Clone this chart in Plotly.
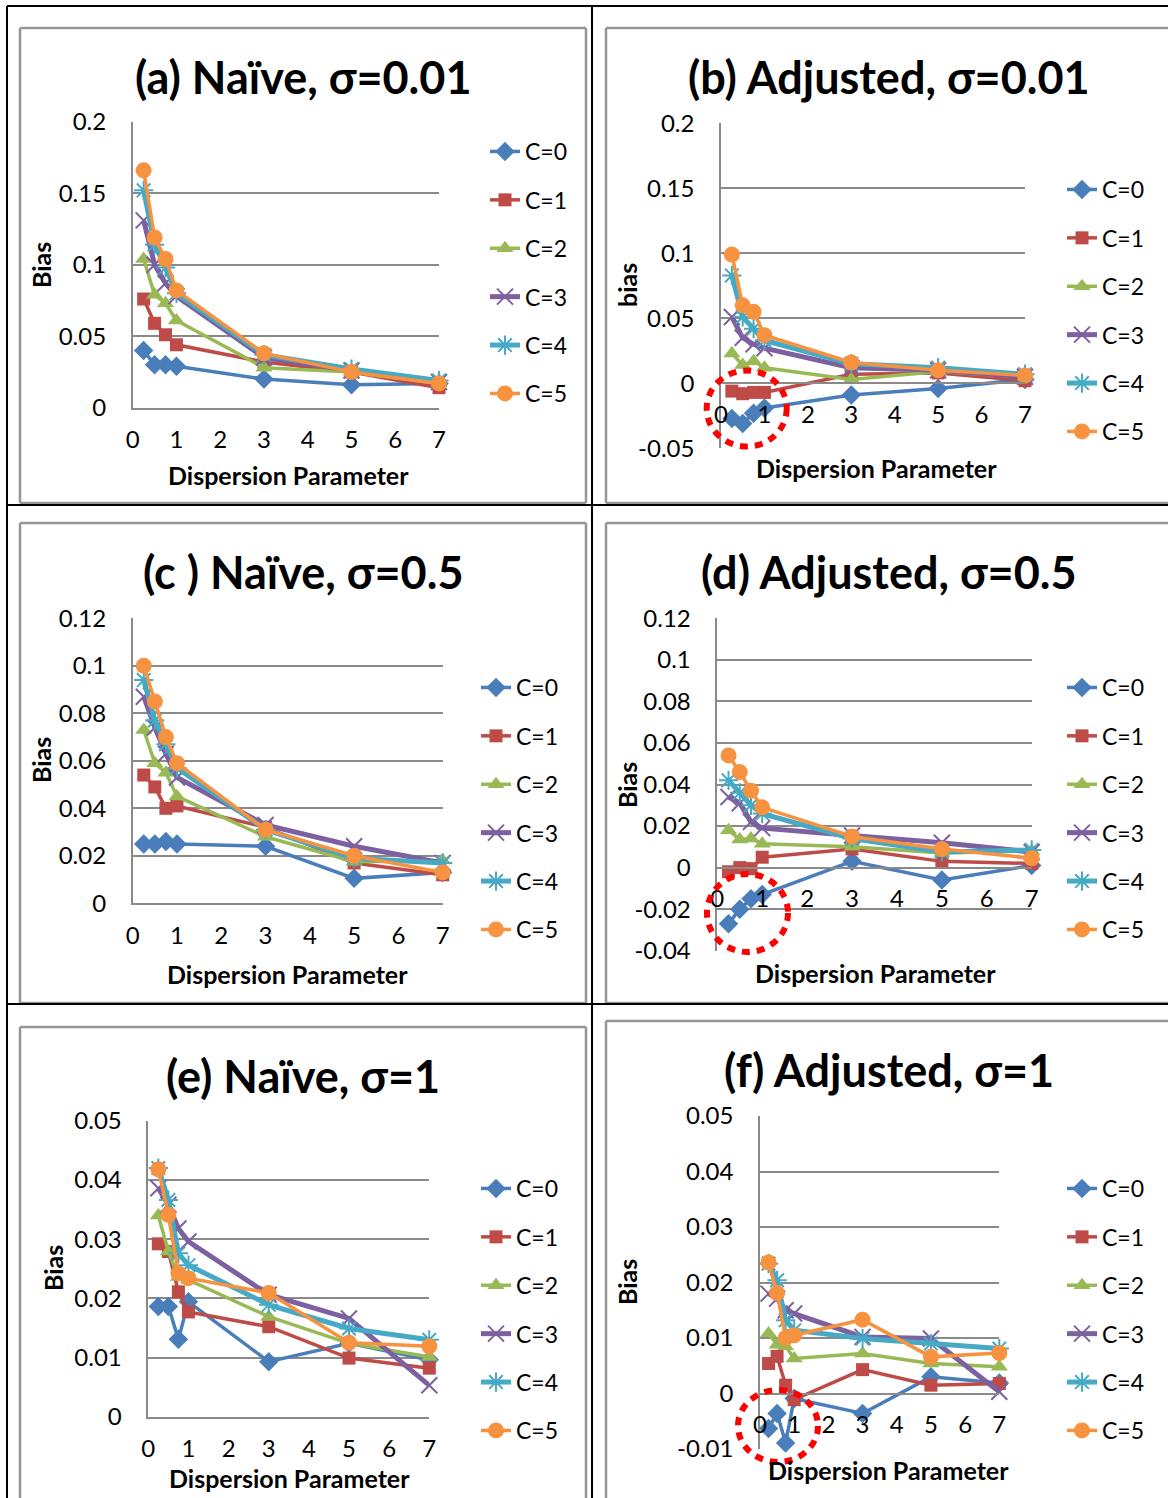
import plotly.graph_objects as go

# figure covers the whole 1168x1498 page (body margin removed by post_script)
W, H = 1168, 1498

x_vals = [0.25, 0.5, 0.75, 1, 3, 5, 7]
series_names = ["C=0", "C=1", "C=2", "C=3", "C=4", "C=5"]
x_ticks = [0, 1, 2, 3, 4, 5, 6, 7]
x_ticktext = ["0", "1", "2", "3", "4", "5", "6", "7"]

# (a) Naive, sigma=0.01
panel_a = [
    [0.040, 0.030, 0.030, 0.029, 0.020, 0.016, 0.017],
    [0.076, 0.059, 0.051, 0.044, 0.032, 0.025, 0.014],
    [0.104, 0.079, 0.073, 0.061, 0.028, 0.025, 0.017],
    [0.131, 0.100, 0.087, 0.078, 0.035, 0.026, 0.018],
    [0.152, 0.114, 0.098, 0.080, 0.037, 0.027, 0.019],
    [0.166, 0.119, 0.104, 0.082, 0.038, 0.025, 0.017],
]
# (b) Adjusted, sigma=0.01
panel_b = [
    [-0.027, -0.031, -0.023, -0.019, -0.009, -0.004, 0.003],
    [-0.006, -0.008, -0.007, -0.007, 0.007, 0.008, 0.002],
    [0.023, 0.014, 0.017, 0.012, 0.003, 0.009, 0.005],
    [0.051, 0.035, 0.030, 0.027, 0.012, 0.010, 0.005],
    [0.083, 0.051, 0.042, 0.033, 0.015, 0.012, 0.007],
    [0.099, 0.060, 0.055, 0.037, 0.016, 0.010, 0.006],
]
# (c) Naive, sigma=0.5
panel_c = [
    [0.025, 0.025, 0.026, 0.025, 0.024, 0.0105, 0.013],
    [0.054, 0.049, 0.040, 0.041, 0.032, 0.017, 0.012],
    [0.073, 0.059, 0.055, 0.045, 0.028, 0.0175, 0.018],
    [0.087, 0.074, 0.063, 0.053, 0.033, 0.024, 0.017],
    [0.094, 0.077, 0.067, 0.057, 0.031, 0.019, 0.017],
    [0.100, 0.085, 0.070, 0.059, 0.031, 0.020, 0.013],
]
# (d) Adjusted, sigma=0.5
panel_d = [
    [-0.027, -0.020, -0.015, -0.013, 0.003, -0.006, 0.001],
    [-0.002, 0.000, -0.0005, 0.005, 0.009, 0.003, 0.002],
    [0.018, 0.0135, 0.014, 0.0115, 0.010, 0.007, 0.008],
    [0.034, 0.031, 0.022, 0.019, 0.0155, 0.012, 0.0075],
    [0.042, 0.036, 0.030, 0.026, 0.014, 0.0075, 0.0085],
    [0.054, 0.046, 0.037, 0.029, 0.015, 0.009, 0.0045],
]
# (e) Naive, sigma=1
panel_e = [
    [0.0186, 0.0186, 0.0131, 0.0194, 0.0093, 0.0124, 0.0096],
    [0.0292, 0.0279, 0.0211, 0.0177, 0.0152, 0.0099, 0.0082],
    [0.0340, 0.0279, 0.0236, 0.0231, 0.0169, 0.0124, 0.0101],
    [0.0386, 0.0358, 0.0318, 0.0296, 0.0206, 0.0166, 0.0053],
    [0.0420, 0.0366, 0.0276, 0.0256, 0.0189, 0.0149, 0.0130],
    [0.0418, 0.0341, 0.0242, 0.0234, 0.0209, 0.0125, 0.0119],
]
# (f) Adjusted, sigma=1
panel_f = [
    [-0.0063, -0.0036, -0.0089, -0.0009, -0.0036, 0.0030, 0.0019],
    [0.0054, 0.0067, 0.0015, -0.0011, 0.0043, 0.0015, 0.0018],
    [0.0108, 0.0088, 0.0085, 0.0063, 0.0072, 0.0054, 0.0048],
    [0.0180, 0.0171, 0.0150, 0.0144, 0.0102, 0.0099, 0.0003],
    [0.0234, 0.0204, 0.0132, 0.0114, 0.0099, 0.0090, 0.0081],
    [0.0236, 0.0181, 0.0100, 0.0105, 0.0133, 0.0066, 0.0073],
]

titles = ["(a) Naïve, σ=0.01", "(b) Adjusted, σ=0.01", "(c ) Naïve, σ=0.5",
          "(d) Adjusted, σ=0.5", "(e) Naïve, σ=1", "(f) Adjusted, σ=1"]
y_titles = ["Bias", "bias", "Bias", "Bias", "Bias", "Bias"]
x_title = "Dispersion Parameter"

ticks_a = [0, 0.05, 0.1, 0.15, 0.2]
ticktext_a = ["0", "0.05", "0.1", "0.15", "0.2"]
ticks_b = [-0.05, 0, 0.05, 0.1, 0.15, 0.2]
ticktext_b = ["-0.05", "0", "0.05", "0.1", "0.15", "0.2"]
ticks_c = [0, 0.02, 0.04, 0.06, 0.08, 0.1, 0.12]
ticktext_c = ["0", "0.02", "0.04", "0.06", "0.08", "0.1", "0.12"]
ticks_d = [-0.04, -0.02, 0, 0.02, 0.04, 0.06, 0.08, 0.1, 0.12]
ticktext_d = ["-0.04", "-0.02", "0", "0.02", "0.04", "0.06", "0.08", "0.1", "0.12"]
ticks_e = [0, 0.01, 0.02, 0.03, 0.04, 0.05]
ticktext_e = ["0", "0.01", "0.02", "0.03", "0.04", "0.05"]
ticks_f = [-0.01, 0, 0.01, 0.02, 0.03, 0.04, 0.05]
ticktext_f = ["-0.01", "0", "0.01", "0.02", "0.03", "0.04", "0.05"]

# pixel layout (picture coordinates)
panels = [
    dict(data=panel_a, ticks=ticks_a, tt=ticktext_a, yr=[0, 0.2],
         px=(132.7, 439), py=(121.7, 407.7), title=(303, 77), xt=(288, 474.5),
         yt=(41, 265), leg=(485, 130)),
    dict(data=panel_b, ticks=ticks_b, tt=ticktext_b, yr=[-0.05, 0.2],
         px=(721, 1025), py=(123.3, 448.3), title=(889, 77), xt=(876, 467.5),
         yt=(627, 285), leg=(1062, 168)),
    dict(data=panel_c, ticks=ticks_c, tt=ticktext_c, yr=[0, 0.12],
         px=(132.7, 442.7), py=(618.3, 903.3), title=(303, 572), xt=(287, 974),
         yt=(41, 760), leg=(476, 666)),
    dict(data=panel_d, ticks=ticks_d, tt=ticktext_d, yr=[-0.04, 0.12],
         px=(717.3, 1031.7), py=(618.3, 950.7), title=(889, 572), xt=(875, 973),
         yt=(627, 785), leg=(1062, 666)),
    dict(data=panel_e, ticks=ticks_e, tt=ticktext_e, yr=[0, 0.05],
         px=(148.3, 429.3), py=(1120.7, 1416.7), title=(303, 1076), xt=(289, 1477.5),
         yt=(53, 1268), leg=(476, 1167)),
    dict(data=panel_f, ticks=ticks_f, tt=ticktext_f, yr=[-0.01, 0.05],
         px=(760, 999.3), py=(1116, 1449), title=(889, 1070), xt=(888, 1469.5),
         yt=(627, 1282), leg=(1062, 1167)),
]

colors = ["#4A7EBB", "#BE4B48", "#98B954", "#7D60A0", "#46AAC5", "#F69240"]
symbols = ["diamond", "square", "triangle-up", "x-thin-open", "asterisk-open", "circle"]
msizes = [15, 13, 15, 16, 16, 16]
lwidths = [3.5, 3.5, 3.5, 5, 5, 3.5]

FONT = "Lato, Carlito, Calibri, sans-serif"
GRID = "#8A8A8A"


def px2x(p):
    return min(max(p / W, 0.0), 1.0)


def px2y(p):
    return min(max(1 - p / H, 0.0), 1.0)


fig = go.Figure()
layout = dict(width=W, height=H,
              margin=dict(l=0, r=0, t=0, b=0, pad=0, autoexpand=False),
              autosize=False, paper_bgcolor="white", plot_bgcolor="white",
              font=dict(family=FONT, color="black", size=24),
              showlegend=True)
annotations = []
shapes = []

for i, p in enumerate(panels):
    k = "" if i == 0 else str(i + 1)
    xd = [px2x(p["px"][0]), px2x(p["px"][1])]
    yd = [px2y(p["py"][1]), px2y(p["py"][0])]
    y0, y1 = p["yr"]
    zero_pos = yd[0] + (0 - y0) / (y1 - y0) * (yd[1] - yd[0])
    xa = dict(domain=xd, range=[0, 7], tickvals=x_ticks, ticktext=x_ticktext,
              showgrid=False, zeroline=False, showline=True, linecolor=GRID,
              linewidth=1.5, ticks="", ticklabelstandoff=10, automargin=False,
              tickfont=dict(size=24, family=FONT, color="black"),
              fixedrange=True)
    if y0 < 0:
        xa.update(anchor="free", position=zero_pos)
    else:
        xa.update(anchor="y" + k)
    ya = dict(domain=yd, range=[y0, y1], tickvals=p["ticks"], ticktext=p["tt"],
              showgrid=True, gridcolor=GRID, gridwidth=1.5, zeroline=False,
              showline=True, linecolor=GRID, linewidth=1.5, ticks="",
              ticklabelstandoff=20, anchor="x" + k, automargin=False,
              tickfont=dict(size=24, family=FONT, color="black"), fixedrange=True)
    layout["xaxis" + k] = xa
    layout["yaxis" + k] = ya
    legname = "legend" + k
    layout[legname] = dict(x=px2x(p["leg"][0]), y=px2y(p["leg"][1]),
                           xanchor="left", yanchor="top", bgcolor="rgba(0,0,0,0)",
                           font=dict(size=23, family=FONT, color="black"),
                           tracegroupgap=15.5, itemsizing="trace", itemwidth=30)
    for c in range(6):
        fig.add_trace(go.Scatter(
            x=x_vals, y=p["data"][c], name=series_names[c], mode="lines+markers",
            xaxis="x" + k, yaxis="y" + k, legend=legname,
            legendgroup=f"g{i}_{c}",
            line=dict(color=colors[c], width=lwidths[c]),
            marker=dict(symbol=symbols[c], size=msizes[c], color=colors[c],
                        line=dict(color=colors[c], width=2 if c in (3, 4) else 0)),
            cliponaxis=False,
        ))
    annotations.append(dict(text="<b>" + titles[i] + "</b>", x=px2x(p["title"][0]),
                            y=px2y(p["title"][1]), xref="paper", yref="paper",
                            showarrow=False, xanchor="center", yanchor="middle",
                            font=dict(size=45, family=FONT, color="black")))
    annotations.append(dict(text="<b>" + x_title + "</b>", x=px2x(p["xt"][0]),
                            y=px2y(p["xt"][1]), xref="paper", yref="paper",
                            showarrow=False, xanchor="center", yanchor="middle",
                            font=dict(size=25, family=FONT, color="black")))
    annotations.append(dict(text="<b>" + y_titles[i] + "</b>", x=px2x(p["yt"][0]),
                            y=px2y(p["yt"][1]), xref="paper", yref="paper",
                            showarrow=False, xanchor="center", yanchor="middle",
                            textangle=-90,
                            font=dict(size=25, family=FONT, color="black")))


def seg(x0, y0, x1, y1, color, width):
    shapes.append(dict(type="line", xref="paper", yref="paper",
                       x0=px2x(x0), x1=px2x(x1), y0=px2y(y0), y1=px2y(y1),
                       line=dict(color=color, width=width), layer="below"))


# chart-area frames (grey); sides outside the picture are not drawn
FR = "#969696"
for (x0, y0, x1, y1, bottom) in [(20, 28, 586, 503, True), (20, 523, 586, 1003, True),
                                 (20, 1027, 586, 1498, False)]:
    seg(x0, y0, x1, y0, FR, 2.5)
    seg(x0, y0, x0, y1, FR, 2.5)
    seg(x1, y0, x1, y1, FR, 2.5)
    if bottom:
        seg(x0, y1, x1, y1, FR, 2.5)
for (x0, y0, y1, bottom) in [(606, 28, 503, True), (606, 523, 1003, True),
                             (606, 1021, 1498, False)]:
    seg(x0, y0, W, y0, FR, 2.5)
    seg(x0, y0, x0, y1, FR, 2.5)
    if bottom:
        seg(x0, y1, W, y1, FR, 2.5)
# table grid (black)
for (x0, y0, x1, y1) in [(7, 6, W, 6), (7, 6, 7, H), (592, 6, 592, H),
                         (7, 505, W, 505), (7, 1004, W, 1004)]:
    seg(x0, y0, x1, y1, "black", 2)

# red dotted highlight circles
circles = [(746.7, 408.5, 40, 38), (747.5, 913, 40.5, 39), (778, 1426, 40, 36)]
for (cx, cy, rx, ry) in circles:
    shapes.append(dict(type="circle", xref="paper", yref="paper",
                       x0=px2x(cx - rx), x1=px2x(cx + rx),
                       y0=px2y(cy + ry), y1=px2y(cy - ry),
                       line=dict(color="#FF0000", width=6, dash="8px,7px")))

layout["annotations"] = annotations
layout["shapes"] = shapes
fig.update_layout(**layout)
fig.write_html("out.html", config={"displayModeBar": False},
               post_script="document.body.style.margin='0';"
                           "document.body.style.overflow='hidden';")
